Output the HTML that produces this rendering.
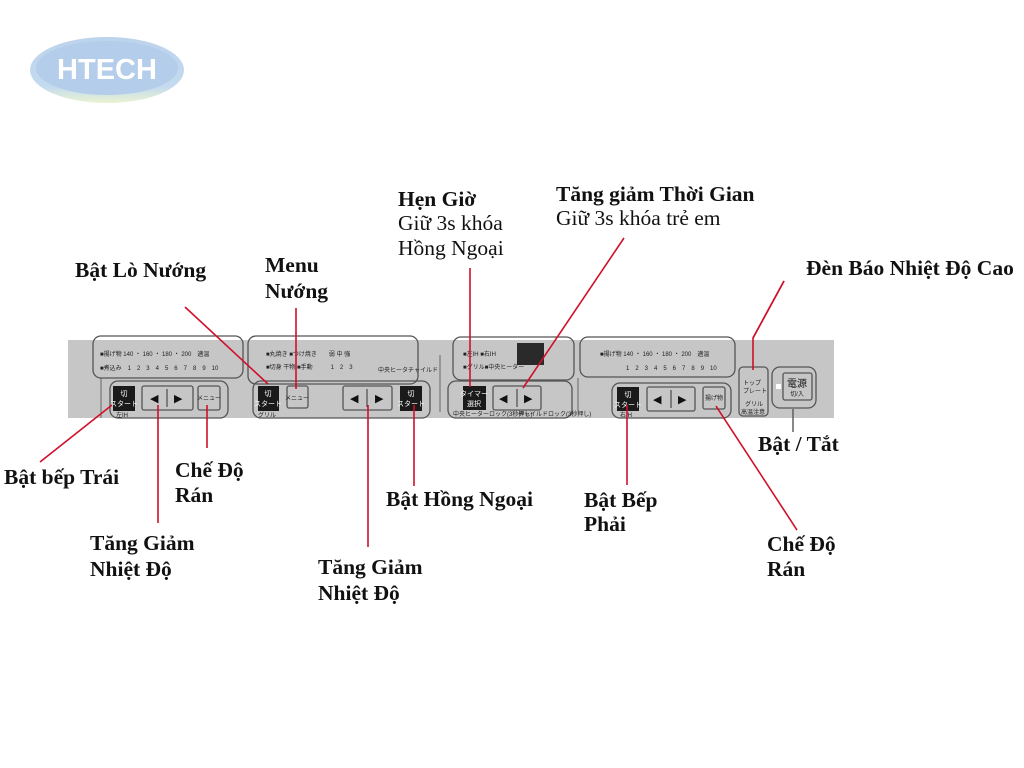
<!DOCTYPE html>
<html><head><meta charset="utf-8"><style>
html,body{margin:0;padding:0;background:#fff;}
svg{display:block}
.l{font-family:"Liberation Serif",serif;font-weight:bold;font-size:21.5px;fill:#111}
.n{font-family:"Liberation Serif",serif;font-size:21.5px;fill:#111}
.j{font-family:"Liberation Sans","Noto Sans CJK JP",sans-serif;font-size:6px;fill:#222}
.w{font-family:"Liberation Sans","Noto Sans CJK JP",sans-serif;font-size:7px;fill:#fff}
.bx{fill:none;stroke:#555;stroke-width:1.3}
.r{stroke:#d0102a;stroke-width:1.6;fill:none}
</style></head><body>
<svg width="1024" height="768" viewBox="0 0 1024 768" xmlns="http://www.w3.org/2000/svg">
<defs><linearGradient id="g" x1="0" y1="0" x2="0" y2="1"><stop offset="0" stop-color="#bcd3ec"/><stop offset="0.75" stop-color="#c4daef"/><stop offset="1" stop-color="#eaf3d2"/></linearGradient></defs>
<ellipse cx="107" cy="70" rx="77" ry="33" fill="url(#g)"/>
<ellipse cx="107" cy="68" rx="71" ry="27" fill="#b3cdea"/>
<text x="107" y="79" text-anchor="middle" font-family="Liberation Sans,sans-serif" font-weight="bold" font-size="29" fill="#fff">HTECH</text>

<!-- panel -->
<rect x="68" y="340" width="766" height="78" fill="#c6c6c6"/>
<line x1="101" y1="378" x2="101" y2="418" stroke="#666"/>
<line x1="440" y1="355" x2="440" y2="412" stroke="#666"/>
<line x1="578" y1="378" x2="578" y2="412" stroke="#666"/>
<!-- left -->
<rect class="bx" x="93" y="336" width="150" height="42" rx="8"/>
<text class="j" x="100" y="356">■揚げ物 140 ・ 160 ・ 180 ・ 200　適温</text>
<text class="j" x="100" y="370">■煮込み　1　2　3　4　5　6　7　8　9　10</text>
<rect class="bx" x="110" y="381" width="118" height="37" rx="8"/>
<rect x="113" y="386" width="22" height="25" fill="#1a1a1a"/>
<text class="w" x="124" y="396" text-anchor="middle">切</text><text class="w" x="124" y="406" text-anchor="middle">スタート</text>
<text class="j" x="116" y="417">左IH</text>
<rect class="bx" x="142" y="386" width="51" height="24" rx="2"/>
<text x="150" y="402" font-size="11" fill="#111">◀</text><line x1="167" y1="389" x2="167" y2="407" stroke="#333"/><text x="174" y="402" font-size="11" fill="#111">▶</text>
<rect class="bx" x="198" y="386" width="22" height="24" rx="2"/><text class="j" x="209" y="400" text-anchor="middle">メニュー</text>
<!-- middle -->
<rect class="bx" x="248" y="336" width="170" height="48" rx="8"/>
<text class="j" x="266" y="356">■丸焼き ■つけ焼き　　弱 中 強</text>
<text class="j" x="266" y="369">■切身 干物 ■手動　　　1　2　3</text>
<text class="j" x="378" y="372">中央ヒーター</text><text class="j" x="408" y="372">チャイルド</text>
<rect class="bx" x="253" y="381" width="177" height="37" rx="8"/>
<rect x="258" y="386" width="21" height="25" fill="#1a1a1a"/>
<text class="w" x="268" y="396" text-anchor="middle">切</text><text class="w" x="268" y="406" text-anchor="middle">スタート</text>
<text class="j" x="258" y="417">グリル</text>
<rect class="bx" x="287" y="386" width="21" height="22" rx="2"/><text class="j" x="297" y="400" text-anchor="middle">メニュー</text>
<rect class="bx" x="343" y="386" width="49" height="24" rx="2"/>
<text x="350" y="402" font-size="11" fill="#111">◀</text><line x1="367" y1="389" x2="367" y2="407" stroke="#333"/><text x="375" y="402" font-size="11" fill="#111">▶</text>
<rect x="400" y="386" width="22" height="25" fill="#1a1a1a"/>
<text class="w" x="411" y="396" text-anchor="middle">切</text><text class="w" x="411" y="406" text-anchor="middle">スタート</text>
<!-- timer -->
<rect class="bx" x="453" y="337" width="121" height="43" rx="8"/>
<text class="j" x="463" y="356">■左IH ■右IH</text><text class="j" x="463" y="369">■グリル■中央ヒーター</text>
<rect x="517" y="343" width="27" height="22" fill="#2a2a2a"/>
<rect class="bx" x="448" y="381" width="124" height="37" rx="8"/>
<rect x="463" y="386" width="23" height="24" fill="#1a1a1a"/>
<text class="w" x="474" y="396" text-anchor="middle">タイマー</text><text class="w" x="474" y="406" text-anchor="middle">選択</text>
<rect class="bx" x="493" y="386" width="48" height="24" rx="2"/>
<text x="499" y="402" font-size="11" fill="#111">◀</text><line x1="517" y1="389" x2="517" y2="407" stroke="#333"/><text x="524" y="402" font-size="11" fill="#111">▶</text>
<text class="j" x="453" y="416" font-size="5">中央ヒーターロック(3秒押し)</text><text class="j" x="518" y="416" font-size="5">チャイルドロック(3秒押し)</text>
<!-- right -->
<rect class="bx" x="580" y="337" width="155" height="40" rx="8"/>
<text class="j" x="600" y="356">■揚げ物 140 ・ 160 ・ 180 ・ 200　適温</text>
<text class="j" x="626" y="370">1　2　3　4　5　6　7　8　9　10</text>
<rect class="bx" x="612" y="383" width="119" height="35" rx="8"/>
<rect x="617" y="387" width="22" height="24" fill="#1a1a1a"/>
<text class="w" x="628" y="397" text-anchor="middle">切</text><text class="w" x="628" y="407" text-anchor="middle">スタート</text>
<text class="j" x="620" y="417">右IH</text>
<rect class="bx" x="647" y="387" width="48" height="24" rx="2"/>
<text x="653" y="403" font-size="11" fill="#111">◀</text><line x1="671" y1="390" x2="671" y2="408" stroke="#333"/><text x="678" y="403" font-size="11" fill="#111">▶</text>
<rect class="bx" x="703" y="387" width="22" height="22" rx="2"/><text class="j" x="714" y="400" text-anchor="middle">揚げ物</text>
<rect class="bx" x="739" y="367" width="29" height="49" rx="4"/>
<text class="j" x="743" y="385">トップ</text><text class="j" x="743" y="393">プレート</text><text class="j" x="745" y="406">グリル</text><text class="j" x="741" y="414">高温注意</text>
<rect class="bx" x="772" y="367" width="44" height="41" rx="8"/>
<rect class="bx" x="783" y="373" width="29" height="27" rx="2"/>
<text x="797" y="387" text-anchor="middle" font-family="Noto Sans CJK JP,sans-serif" font-size="10" fill="#111">電源</text>
<text class="j" x="797" y="396" text-anchor="middle">切/入</text>
<rect x="776" y="384" width="5" height="5" fill="#fff"/>

<!-- connectors -->
<line class="r" x1="185" y1="307" x2="268" y2="384"/>
<line class="r" x1="296" y1="308" x2="296" y2="389"/>
<line class="r" x1="470" y1="268" x2="470" y2="387"/>
<line class="r" x1="624" y1="238" x2="523" y2="388"/>
<polyline class="r" points="784,281 753,338 753,370" stroke="#777"/>
<line class="r" x1="784" y1="281" x2="753" y2="338"/>
<line class="r" x1="40" y1="462" x2="112" y2="405"/>
<line class="r" x1="158" y1="405" x2="158" y2="523"/>
<line class="r" x1="207" y1="405" x2="207" y2="448"/>
<line class="r" x1="368" y1="405" x2="368" y2="547"/>
<line class="r" x1="414" y1="405" x2="414" y2="486"/>
<line class="r" x1="627" y1="405" x2="627" y2="485"/>
<line class="r" x1="716" y1="406" x2="797" y2="530"/>
<line x1="793" y1="409" x2="793" y2="432" stroke="#555" stroke-width="1.4"/>

<!-- labels -->
<text class="l" x="75" y="277">Bật Lò Nướng</text>
<text class="l" x="265" y="272">Menu</text><text class="l" x="265" y="298">Nướng</text>
<text class="l" x="398" y="206">Hẹn Giờ</text>
<text class="n" x="398" y="230">Giữ 3s khóa</text><text class="n" x="398" y="255">Hồng Ngoại</text>
<text class="l" x="556" y="201">Tăng giảm Thời Gian</text>
<text class="n" x="556" y="225">Giữ 3s khóa trẻ em</text>
<text class="l" x="806" y="275">Đèn Báo Nhiệt Độ Cao</text>
<text class="l" x="4" y="484">Bật bếp Trái</text>
<text class="l" x="175" y="477">Chế Độ</text><text class="l" x="175" y="502">Rán</text>
<text class="l" x="90" y="550">Tăng Giảm</text><text class="l" x="90" y="576">Nhiệt Độ</text>
<text class="l" x="386" y="506">Bật Hồng Ngoại</text>
<text class="l" x="318" y="574">Tăng Giảm</text><text class="l" x="318" y="600">Nhiệt Độ</text>
<text class="l" x="584" y="507">Bật Bếp</text><text class="l" x="584" y="531">Phải</text>
<text class="l" x="758" y="451">Bật / Tắt</text>
<text class="l" x="767" y="551">Chế Độ</text><text class="l" x="767" y="576">Rán</text>
</svg>
</body></html>
